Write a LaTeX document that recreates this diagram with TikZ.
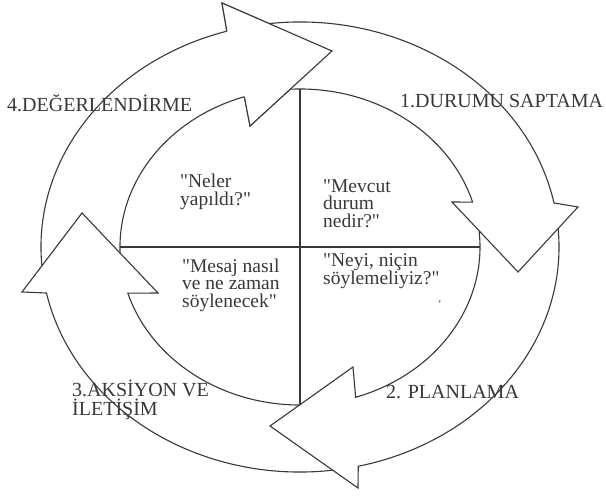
\documentclass[tikz,border=0pt]{standalone}
\usepackage{fontspec}
\setmainfont{Liberation Serif}[Ligatures=TeXOff]

\tikzset{
  ring/.style={draw=black!78, fill=white, line width=1.1pt, line join=miter},
  divider/.style={draw=black!78, line width=1.1pt},
  outerarc/.style={x radius=259, y radius=225},
  innerarc/.style={x radius=180, y radius=158},
  stage/.style={font=\fontsize{20}{19}\selectfont, text=black!78, inner sep=0pt, align=left},
  question/.style={font=\fontsize{19.5}{18}\selectfont, text=black!78, inner sep=0pt, align=left},
}

\begin{document}
\begin{tikzpicture}[x=1pt, y=1pt]
\useasboundingbox (-300,-251) rectangle (306,247);
% quadrant lines
\draw[divider] (-180,0) -- (180,0);
\draw[divider] (0,-158) -- (0,158);
% 4 -> 1
\draw[ring] (188:259 and 225) arc[outerarc, start angle=188, end angle=106.4]
  -- (-78,244) -- (32,196) -- (-50,121) -- (108:180 and 158)
  arc[innerarc, start angle=108, end angle=188] -- cycle;
% 3 -> 4
\draw[ring] (280:259 and 225) arc[outerarc, start angle=280, end angle=191.8]
  -- (-278,-45) -- (-218,34) -- (-142,-46) -- (197:180 and 158)
  arc[innerarc, start angle=197, end angle=280] -- cycle;
% 2 -> 3
\draw[ring] (8:259 and 225) arc[outerarc, start angle=8, end angle=-77]
  -- (58,-241) -- (-30,-179) -- (53,-120) -- (-72:180 and 158)
  arc[innerarc, start angle=-72, end angle=8] -- cycle;
% 1 -> 2
\draw[ring] (100:259 and 225) arc[outerarc, start angle=100, end angle=11.3]
  -- (278,40) -- (218,-25) -- (152,45) -- (16.5:180 and 158)
  arc[innerarc, start angle=16.5, end angle=100] -- cycle;
% head of 4 again, on top of 1
\fill[white] (106.4:259 and 225) -- (-78,244) -- (32,196) -- (-50,121) -- (108:180 and 158) -- cycle;
\draw[divider, line join=miter] (106.4:259 and 225) -- (-78,244) -- (32,196) -- (-50,121) -- (108:180 and 158);

% stage labels
\node[stage, anchor=base west] (evaluate) at (-293,135) {4.DEĞERLENDİRME};
\node[stage, anchor=base west] (situation) at (100,139) {1.DURUMU SAPTAMA};
\node[stage, anchor=base west] (planning) at (86,-151) {2. PLANLAMA};
\node[stage, anchor=base west] (action) at (-228,-168) {3.AKSİYON VE\\İLETİŞİM};

% questions (base = last line)
\node[question, anchor=base west] (done) at (-120,41) {"Neler\\yapıldı?"};
\node[question, anchor=base west] (current) at (23,19) {"Mevcut\\durum\\nedir?"};
\node[question, anchor=base west] (what) at (23,-38) {"Neyi, niçin\\söylemeliyiz?"};
\node[question, anchor=base west] (how) at (-118,-61) {"Mesaj nasıl\\ve ne zaman\\söylenecek"};
\node[question, font=\fontsize{12}{12}\selectfont, anchor=base] (mark) at (140,-62) {'};
\end{tikzpicture}
\end{document}
